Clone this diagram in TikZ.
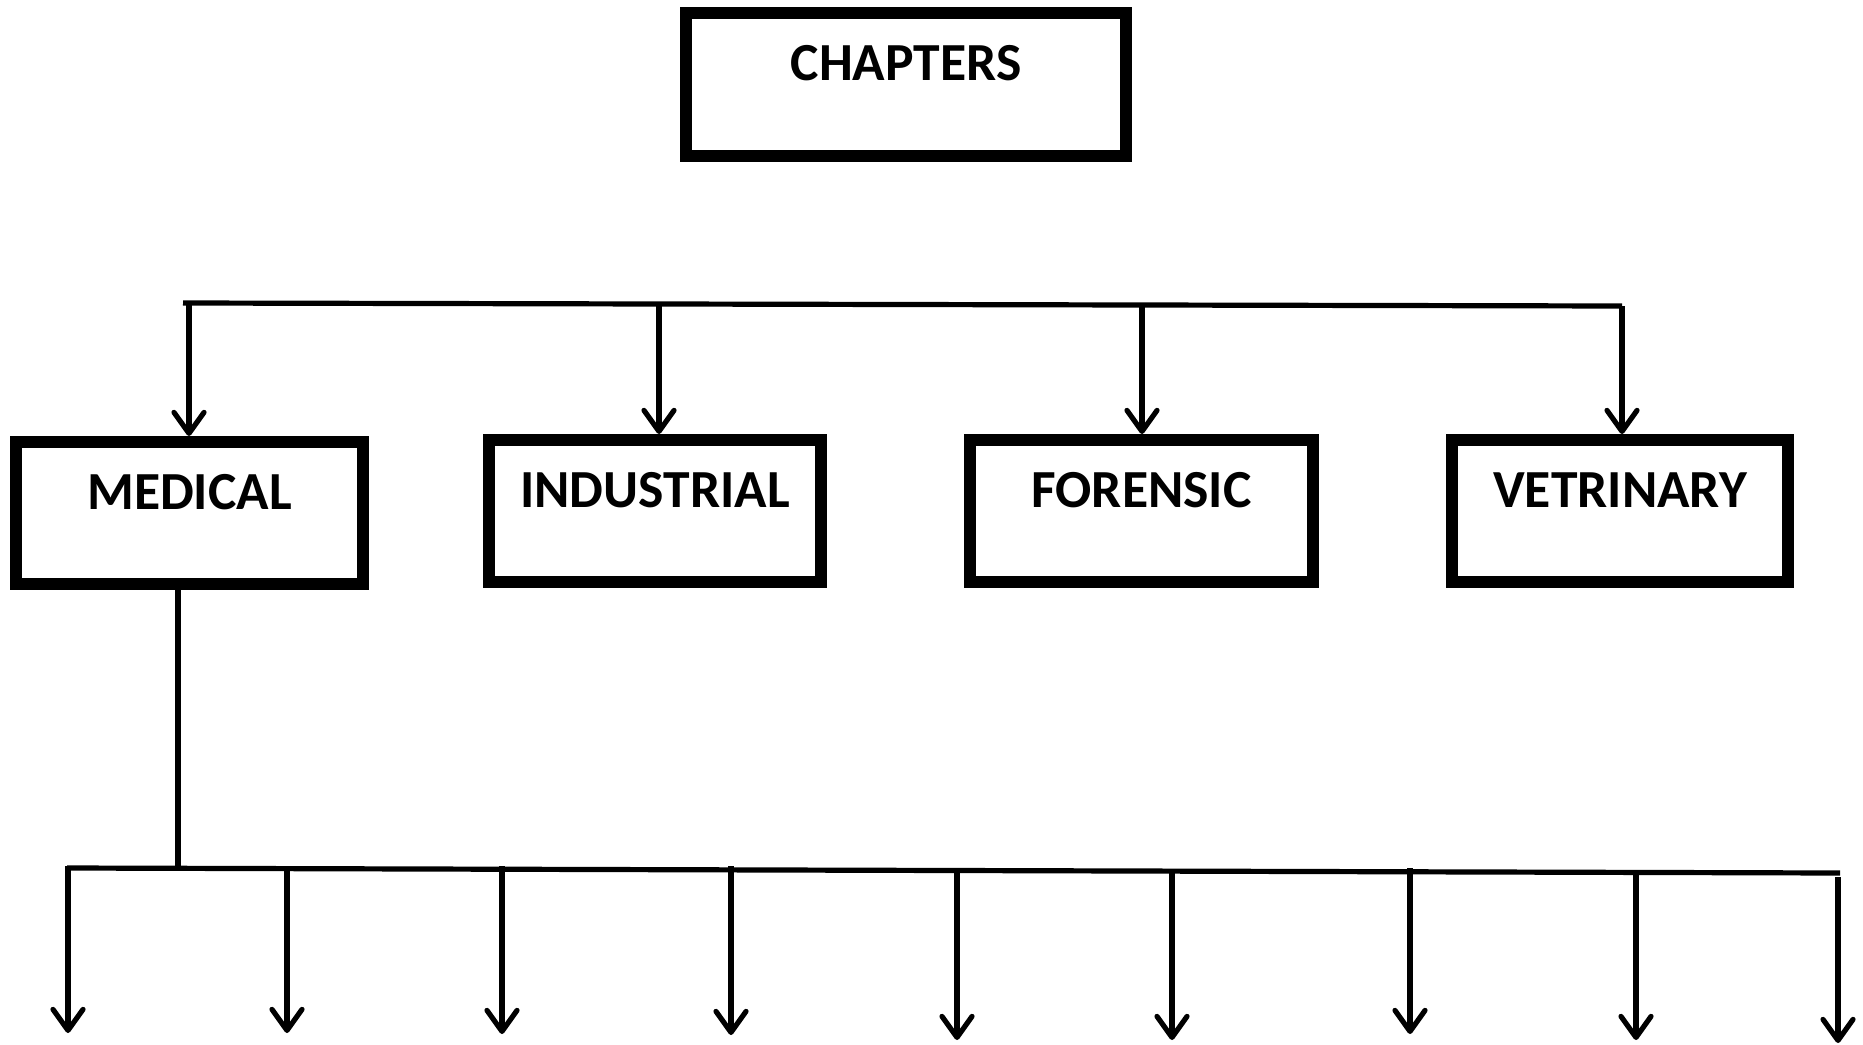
\documentclass[tikz,border=0pt]{standalone}
\usepackage{fontspec}
\setmainfont{Carlito}
\usetikzlibrary{arrows.meta}
\begin{document}
\begin{tikzpicture}[x=0.5pt,y=-0.5pt,
  box/.style={draw=black, line width=6pt, fill=white, inner sep=0pt, outer sep=3pt,
    minimum height=71pt, text height=20pt, text depth=24pt,
    font=\fontsize{26.8}{30}\selectfont\bfseries},
  conn/.style={line width=2.6pt},
  arr/.style={conn, -{Straight Barb[length=10.5pt,width=15pt,round]}}]
\useasboundingbox (0,0) rectangle (1863,1044);
% boxes
\node[box, minimum width=220pt, minimum height=71.5pt] (chap) at (906,84.5) {CHAPTERS};
\node[box, minimum width=173.5pt] (med) at (189.5,513) {MEDICAL};
\node[box, minimum width=166pt] (ind) at (655,511) {INDUSTRIAL};
\node[box, minimum width=171.5pt] (for) at (1141.5,511) {FORENSIC};
\node[box, minimum width=168pt] (vet) at (1620,511) {VETRINARY};
% top bus
\coordinate (tl) at (183,303);
\coordinate (t1) at (189,303);
\coordinate (t2) at (659,304);
\coordinate (t3) at (1142,305);
\coordinate (tr) at (1622,306);
\draw[conn] (tl) -- (tr);
\draw[arr] (t1) -- (med.north -| t1);
\draw[arr] (t2) -- (ind.north -| t2);
\draw[arr] (t3) -- (for.north -| t3);
\draw[arr] (tr) -- (vet.north -| tr);
% bottom bus
\coordinate (bm) at (178,868.3);
\coordinate (bl) at (67,868);
\coordinate (br) at (1840,873);
\draw[conn] (med.south -| bm) -- (bm);
\draw[conn] (bl) -- (br);
\coordinate (s1) at (68,866);   \coordinate (e1) at (68,1033);
\coordinate (s2) at (287,866);  \coordinate (e2) at (287,1033);
\coordinate (s3) at (502,866);  \coordinate (e3) at (502,1034);
\coordinate (s4) at (731,866);  \coordinate (e4) at (731,1035);
\coordinate (s5) at (957,870);  \coordinate (e5) at (957,1040);
\coordinate (s6) at (1172,871); \coordinate (e6) at (1172,1040);
\coordinate (s7) at (1410,868); \coordinate (e7) at (1410,1034);
\coordinate (s8) at (1636,872); \coordinate (e8) at (1636,1040);
\coordinate (s9) at (1838,877); \coordinate (e9) at (1838,1043);
\foreach \i in {1,...,9} {\draw[arr] (s\i) -- (e\i);}
\end{tikzpicture}
\end{document}
